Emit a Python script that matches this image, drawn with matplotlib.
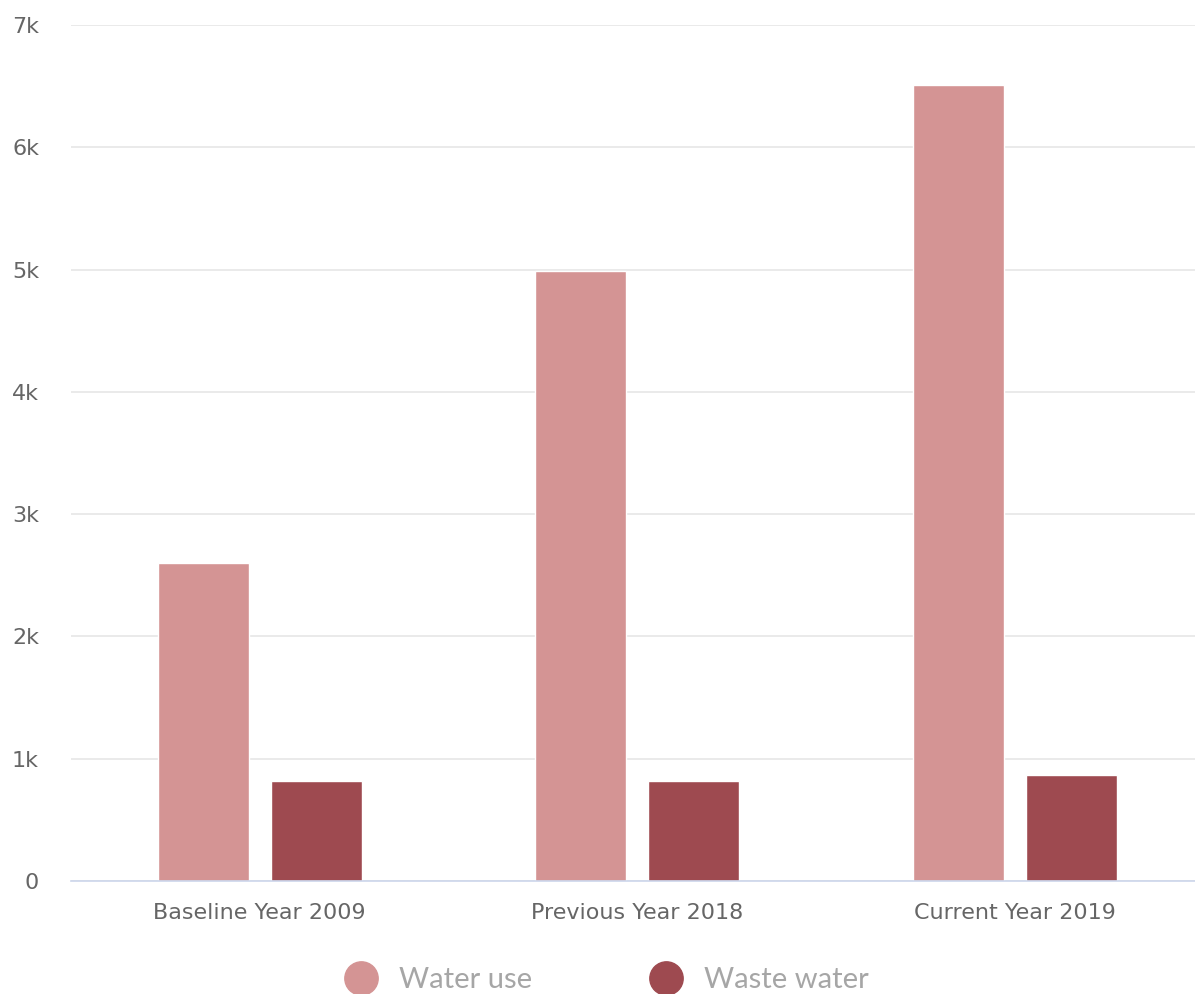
import matplotlib
matplotlib.use("Agg")
import matplotlib.pyplot as plt
from matplotlib.ticker import FuncFormatter
from matplotlib.lines import Line2D
import numpy as np

plt.rcParams["font.family"] = ["DejaVu Sans"]

categories = ["Baseline Year 2009", "Previous Year 2018", "Current Year 2019"]
water_use = [2600, 4990, 6510]
waste_water = [815, 815, 865]
series_names = ["Water use", "Waste water"]
colors = ["#D49494", "#9E4A50"]

W, H = 1195, 994
fig = plt.figure(figsize=(W / 100, H / 100), dpi=100)
# plot area runs slightly past the right edge of the canvas
left_px, right_px = 71, 1203.5
ax = fig.add_axes([left_px / W, 1 - 881 / H, (right_px - left_px) / W, (881 - 25) / H])

x = np.arange(len(categories))
bw = 0.24
off = 0.1497
ax.bar(x - off, water_use, bw, color=colors[0], edgecolor="white", linewidth=1, zorder=3)
ax.bar(x + off, waste_water, bw, color=colors[1], edgecolor="white", linewidth=1, zorder=3)

ax.set_xlim(-0.5, 2.5)
ax.set_ylim(0, 7000)
ax.set_yticks(range(0, 7001, 1000))
ax.yaxis.set_major_formatter(FuncFormatter(lambda v, p: "0" if v == 0 else f"{int(v/1000)}k"))
ax.set_xticks(x)
ax.set_xticklabels(categories)
ax.grid(axis="y", color="#e6e6e6", linewidth=1.2, zorder=0)
ax.set_axisbelow(True)
for s in ["left", "right", "top"]:
    ax.spines[s].set_visible(False)
ax.spines["bottom"].set_color("#ccd6eb")
ax.spines["bottom"].set_linewidth(1.2)
ax.spines["bottom"].set_zorder(4)
ax.tick_params(axis="y", length=0, pad=23, labelsize=16, labelcolor="#666666")
ax.tick_params(axis="x", length=0, pad=15.5, labelsize=16, labelcolor="#666666")

handles = [Line2D([], [], marker="o", linestyle="none", markersize=24,
                  markerfacecolor=c, markeredgecolor=c) for c in colors]
leg = fig.legend(handles, series_names, loc="center", bbox_to_anchor=(600 / W, 1 - 980 / H),
                 ncol=2, frameon=False, handletextpad=0.3, columnspacing=3.6,
                 prop={"family": "Lato", "weight": "normal", "size": 21})
for t in leg.get_texts():
    t.set_color("#a6a6a6")

fig.savefig("out.png", dpi=100, facecolor="white")
